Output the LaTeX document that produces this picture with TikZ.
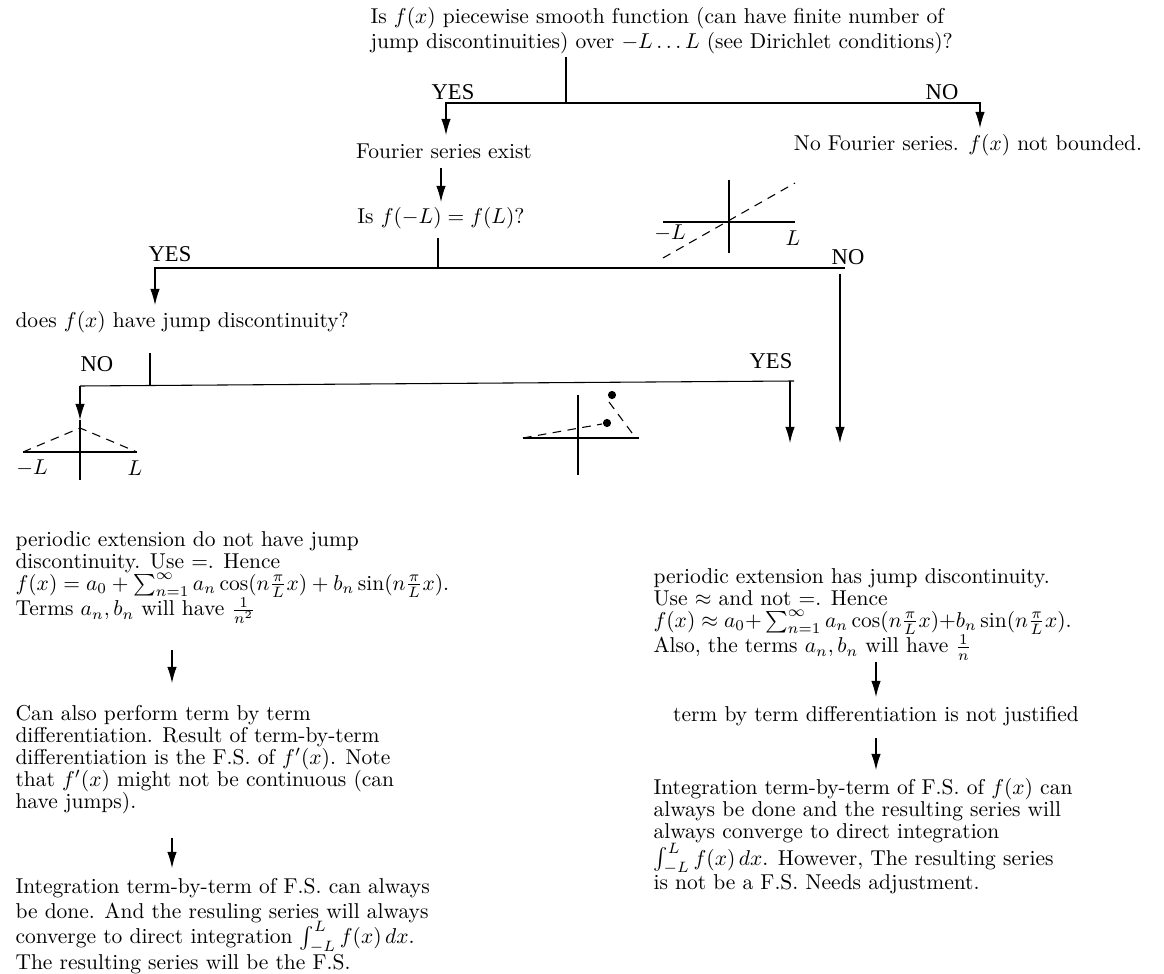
\documentclass[tikz,border=0pt]{standalone}
\usepackage{fontspec}
\newfontfamily\ramafont{Liberation Serif}
\usetikzlibrary{arrows.meta}
\newcommand{\apretado}{\lineskiplimit 0pt\lineskip 0pt\relax}
\newcommand{\muyapretado}{\lineskiplimit -20pt\lineskip 0pt\relax}
\tikzset{
	texto/.style={inner sep=0pt, font=\fontsize{10}{10.2}\selectfont\apretado},
	parrafo/.style={texto, anchor=north west, align=left},
	rama/.style={inner sep=0pt, font=\ramafont\fontsize{10.5}{12}\selectfont},
	flecha/.style={-{Latex[length=7.5pt,width=4.4pt]}},
	trazo/.style={dash pattern=on 4pt off 3pt}
}

\begin{document}
\begin{tikzpicture}[x=0.01635cm, y=-0.01635cm, line width=0.5pt]
\useasboundingbox (0,0) rectangle (1164,974);

% preguntas
\node[parrafo] (q1) at (370,7) {Is $f(x)$ piecewise smooth function (can have finite number of\\[1.5pt]
	jump discontinuities) over $-L\ldots L$ (see Dirichlet conditions)?};
\node[texto] (fse) at (444,151) {Fourier series exist};
\node[texto] (nofs) at (968,145) {No Fourier series. $f(x)$ not bounded.};
\node[texto] (q2) at (441,218) {Is $f(-L)=f(L)$?};
\node[texto, anchor=west] (q3) at (15,322) {does $f(x)$ have jump discontinuity?};

% rama izquierda
\node[parrafo] (p1) at (15,531) {periodic extension do not have jump\\
	discontinuity. Use $=$. Hence\\
	$f(x)=a_0+\sum_{n=1}^{\infty}a_n\cos(n\frac{\pi}{L}x)+b_n\sin(n\frac{\pi}{L}x)$.\\
	Terms $a_n,b_n$ will have $\frac{1}{n^2}$};
\node[parrafo] (p4) at (15,705) {Can also perform term by term\\
	differentiation. Result of term-by-term\\
	differentiation is the F.S. of $f'(x)$. Note\\
	that $f'(x)$ might not be continuous (can\\
	have jumps).};
\node[parrafo, font=\fontsize{10}{11.7}\selectfont\muyapretado] (p5) at (15,878) {Integration term-by-term of F.S. can always\\
	be done. And the resuling series will always\\
	converge to direct integration $\int_{-L}^{L}f(x)\,dx$.\\
	The resulting series will be the F.S.};

% rama derecha
\node[parrafo] (p2) at (653,568) {periodic extension has jump discontinuity.\\
	Use $\approx$ and not $=$. Hence\\
	$f(x)\approx a_0{+}\sum_{n=1}^{\infty}a_n\cos(n\frac{\pi}{L}x){+}b_n\sin(n\frac{\pi}{L}x)$.\\
	Also, the terms $a_n,b_n$ will have $\frac{1}{n}$};
\node[texto] (p3a) at (876,716) {term by term differentiation is not justified};
\node[parrafo] (p3) at (653,778) {Integration term-by-term of F.S. of $f(x)$ can\\
	always be done and the resulting series will\\
	always converge to direct integration\\
	$\int_{-L}^{L}f(x)\,dx$. However, The resulting series\\
	is not be a F.S. Needs adjustment.};

% etiquetas
\node[rama] (si1) at (453,92) {YES};
\node[rama] (no1) at (942,92) {NO};
\node[rama] (si2) at (170,254) {YES};
\node[rama] (no2) at (848,257) {NO};
\node[rama] (no3) at (97,364) {NO};
\node[rama] (si3) at (771,361) {YES};

% conectores
\coordinate (a1) at (566,57);
\coordinate (a2) at (566,103);
\coordinate (a3) at (446,135);
\coordinate (a4) at (980,128);
\draw (a1) -- (a2);
\draw[flecha] (a2) -| (a3);
\draw[flecha] (a2) -| (a4);

\coordinate (b1) at (441,168);
\coordinate (b2) at (441,202);
\draw[flecha] (b1) -- (b2);

\coordinate (c1) at (438,238);
\coordinate (c2) at (438,268);
\coordinate (c3) at (155,305);
\coordinate (c4) at (845,268);
\coordinate (c5) at (840,274);
\coordinate (c6) at (840,443);
\draw (c1) -- (c2) -- (c4);
\draw[flecha] (c2) -| (c3);
\draw[flecha] (c5) -- (c6);

\coordinate (d1) at (150,353);
\coordinate (d2) at (150,385);
\coordinate (d3) at (80,386);
\coordinate (d4) at (80,420);
\coordinate (d5) at (794,381);
\coordinate (d6) at (790,381);
\coordinate (d7) at (790,443);
\draw (d1) -- (d2);
\draw (d3) -- (d5);
\draw[flecha] (d3) -- (d4);
\draw[flecha] (d6) -- (d7);

\coordinate (e1) at (876,662);
\coordinate (e2) at (876,697);
\coordinate (e3) at (876,738);
\coordinate (e4) at (876,770);
\draw[flecha] (e1) -- (e2);
\draw[flecha] (e3) -- (e4);

\coordinate (f1) at (172,650);
\coordinate (f2) at (172,683);
\coordinate (f3) at (172,838);
\coordinate (f4) at (172,868);
\draw[flecha] (f1) -- (f2);
\draw[flecha] (f3) -- (f4);

% bocetos
\draw (663,222) -- (795,222);
\draw (729,180) -- (729,253);
\draw[trazo] (663,258) -- (795,183);
\node[texto] (ml1) at (670,233) {$-L$};
\node[texto] (pl1) at (793,238) {$L$};

\draw (23,452) -- (137,452);
\draw (80,420) -- (80,480);
\draw[trazo] (23,452) -- (80,428) -- (137,452);
\node[texto] (ml2) at (32,468) {$-L$};
\node[texto] (pl2) at (135,468) {$L$};

\draw (523,438) -- (639,438);
\draw (578,395) -- (578,475);
\draw[trazo] (523,438) -- (602,424);
\draw[trazo] (609,402) -- (635,437);
\fill (607,423) circle (1.9pt);
\fill (612,395) circle (1.9pt);
\end{tikzpicture}
\end{document}
